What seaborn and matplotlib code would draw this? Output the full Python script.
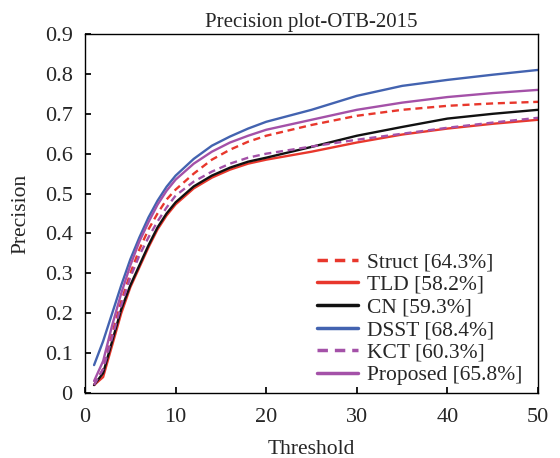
import matplotlib.pyplot as plt
import pandas as pd
import seaborn as sns

# thresholds sampled along the curves
thresholds = [1, 2, 3, 4, 5, 6, 7, 8, 9, 10, 12, 14, 16, 18, 20, 25, 30, 35, 40, 45, 50]

struct   = [0.02, 0.06, 0.15, 0.23, 0.30, 0.36, 0.41, 0.45, 0.485, 0.51, 0.55, 0.585, 0.61, 0.63, 0.645, 0.672, 0.695, 0.710, 0.720, 0.726, 0.730]
tld      = [0.02, 0.04, 0.12, 0.20, 0.265, 0.315, 0.365, 0.41, 0.445, 0.473, 0.513, 0.54, 0.56, 0.575, 0.585, 0.605, 0.628, 0.648, 0.663, 0.675, 0.685]
cn       = [0.02, 0.05, 0.13, 0.21, 0.27, 0.32, 0.37, 0.415, 0.45, 0.478, 0.518, 0.545, 0.565, 0.58, 0.59, 0.617, 0.645, 0.667, 0.688, 0.700, 0.710]
dsst     = [0.07, 0.13, 0.20, 0.27, 0.335, 0.39, 0.44, 0.482, 0.517, 0.545, 0.587, 0.62, 0.643, 0.663, 0.68, 0.71, 0.745, 0.77, 0.785, 0.798, 0.81]
kct      = [0.02, 0.06, 0.14, 0.22, 0.29, 0.345, 0.39, 0.43, 0.465, 0.495, 0.53, 0.555, 0.575, 0.59, 0.60, 0.618, 0.635, 0.65, 0.665, 0.678, 0.69]
proposed = [0.03, 0.08, 0.17, 0.25, 0.32, 0.38, 0.428, 0.472, 0.507, 0.535, 0.575, 0.605, 0.628, 0.645, 0.66, 0.685, 0.71, 0.728, 0.742, 0.752, 0.76]

names = ['Struct [64.3%]', 'TLD [58.2%]', 'CN [59.3%]', 'DSST [68.4%]', 'KCT [60.3%]', 'Proposed [65.8%]']
series = [struct, tld, cn, dsst, kct, proposed]
colors = ['#e8372c', '#e8372c', '#111111', '#4363b0', '#a451a8', '#a451a8']
dashes = [(3, 2), '', '', '', (3, 2), '']

rows = []
for n, s in zip(names, series):
    for t, v in zip(thresholds, s):
        rows.append({'Threshold': t, 'Precision': v, 'Tracker': n})
df = pd.DataFrame(rows)

sns.set_theme(style="ticks")
plt.rcParams['font.family'] = ['Liberation Serif', 'DejaVu Serif']

fig = plt.figure(figsize=(5.6, 4.58), dpi=100)
ax = fig.add_axes([0.1518, 0.1419, 0.809, 0.7838])

sns.lineplot(ax=ax, data=df, x='Threshold', y='Precision', hue='Tracker', style='Tracker',
             palette=colors, dashes=dashes, hue_order=names, style_order=names,
             linewidth=1.7, errorbar=None)

ax.set_xlim(0, 50)
ax.set_ylim(0, 0.9)
ax.set_xticks([0, 10, 20, 30, 40, 50])
ax.set_yticks([0, 0.1, 0.2, 0.3, 0.4, 0.5, 0.6, 0.7, 0.8, 0.9])
ax.set_yticklabels(['0', '0.1', '0.2', '0.3', '0.4', '0.5', '0.6', '0.7', '0.8', '0.9'])
ax.tick_params(direction='in', labelsize=16, length=4, color='black')
ax.tick_params(axis='x', pad=11)
ax.tick_params(axis='y', pad=9)
for sp in ax.spines.values():
    sp.set_color('black')
    sp.set_linewidth(1.0)
ax.set_title('Precision plot-OTB-2015', fontsize=15, pad=5)
ax.set_xlabel('Threshold', fontsize=15.5, labelpad=9)
ax.set_ylabel('Precision', fontsize=15.5, labelpad=10)

leg = ax.legend(loc='lower right', bbox_to_anchor=(0.982, 0.0), frameon=False, fontsize=15.5,
                handlelength=1.9, labelspacing=0.12, borderaxespad=0.15, handletextpad=0.4,
                borderpad=0.2)
for line in leg.get_lines():
    line.set_linewidth(2.5)

fig.savefig('out.png', dpi=100)
